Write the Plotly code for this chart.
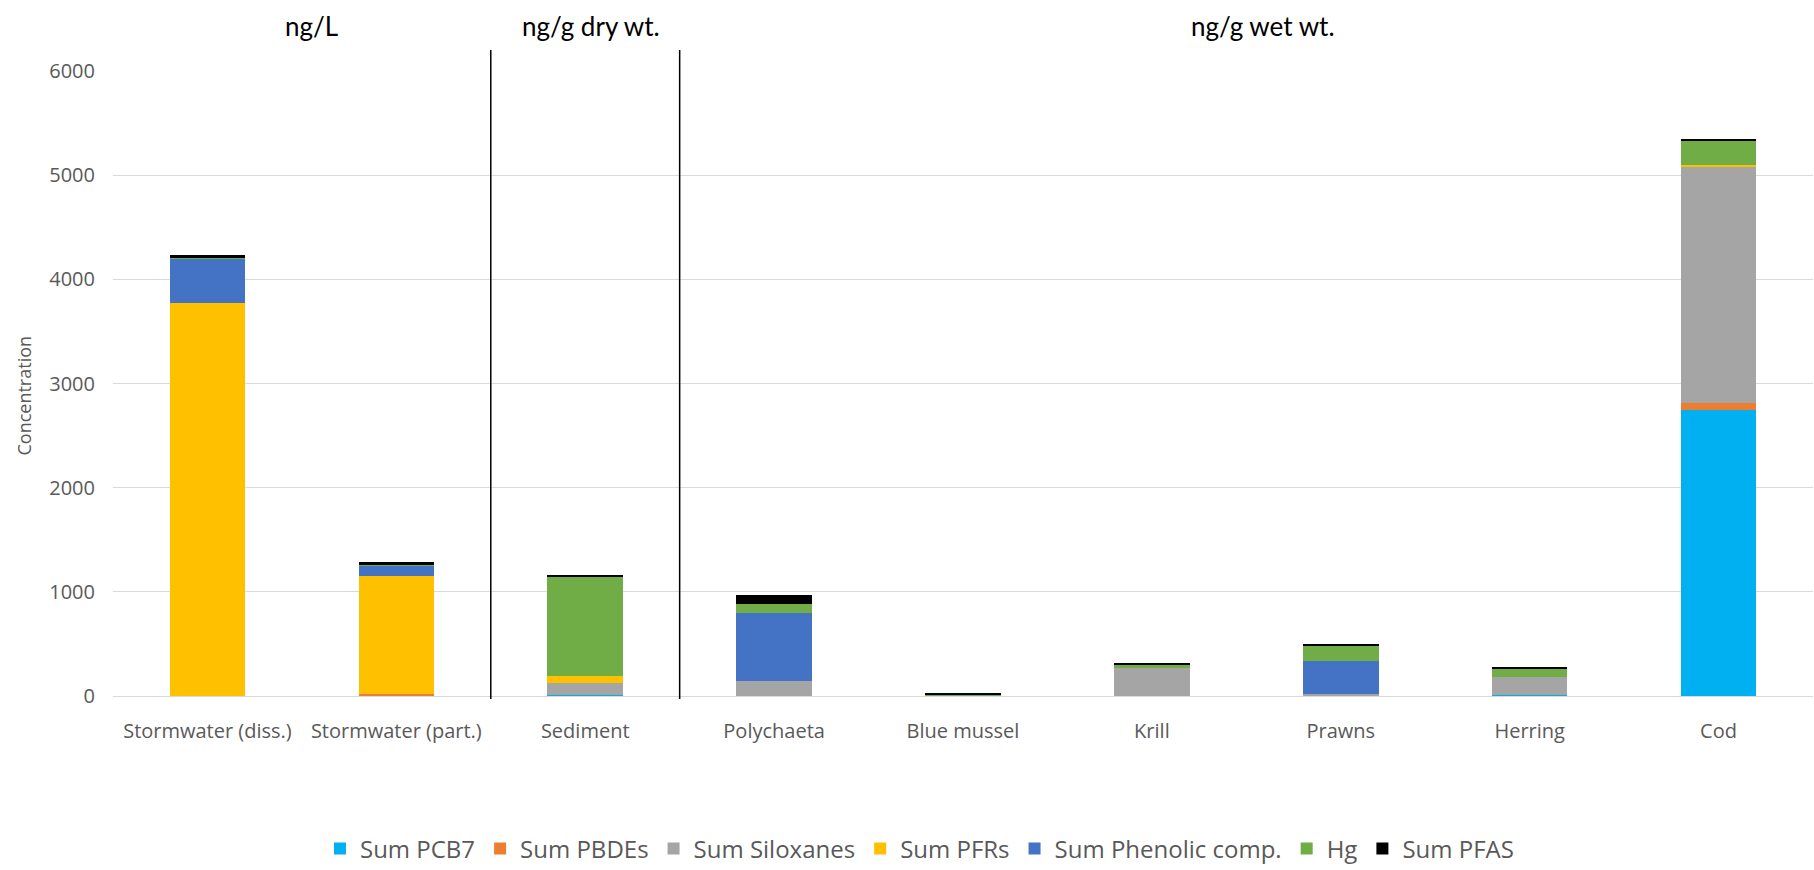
import plotly.graph_objects as go

categories = ["Stormwater (diss.)", "Stormwater (part.)", "Sediment", "Polychaeta",
              "Blue mussel", "Krill", "Prawns", "Herring", "Cod"]

sum_pcb7      = [0,    0,    8,   0,   0,  0,   0,   10,  2745]
sum_pbdes     = [0,    15,   0,   0,   0,  0,   0,   0,   70]
sum_siloxanes = [0,    0,    117, 147, 3,  272, 15,  175, 2271]
sum_pfrs      = [3775, 1140, 70,  0,   0,  0,   0,   0,   13]
sum_phenolic  = [428,  95,   0,   652, 0,  0,   324, 0,   0]
hg            = [6,    14,   950, 87,  8,  26,  144, 77,  230]
sum_pfas      = [20,   19,   13,  86,  18, 19,  16,  10,  14]

series = [
    ("Sum PCB7", sum_pcb7, "#00B0F0"),
    ("Sum PBDEs", sum_pbdes, "#ED7D31"),
    ("Sum Siloxanes", sum_siloxanes, "#A5A5A5"),
    ("Sum PFRs", sum_pfrs, "#FFC000"),
    ("Sum Phenolic comp.", sum_phenolic, "#4472C4"),
    ("Hg", hg, "#70AD47"),
    ("Sum PFAS", sum_pfas, "#000000"),
]

unit_labels = ["ng/L", "ng/g dry wt.", "ng/g wet wt."]
unit_positions = [0.55, 2.03, 5.59]
divider_positions = [1.5, 2.5]
y_title = "Concentration"

fig = go.Figure()
for name, vals, color in series:
    fig.add_trace(go.Bar(x=categories, y=vals, name=name,
                         marker=dict(color=color, line=dict(width=0)),
                         width=0.40))

W, H = 1814, 870
L, R, T, B = 112.5, 1, 71, 174
plot_h = H - T - B
plot_w = W - L - R

def xpaper(pos):
    return (pos + 0.5) / len(categories)

shapes = []
for d in divider_positions:
    shapes.append(dict(type="line", xref="paper", yref="paper",
                       x0=xpaper(d), x1=xpaper(d),
                       y0=-3 / plot_h, y1=1 + 21 / plot_h,
                       line=dict(color="black", width=1.5)))

annotations = []
for lab, pos in zip(unit_labels, unit_positions):
    annotations.append(dict(text=lab, xref="paper", yref="paper",
                            x=xpaper(pos), y=1 + 45.5 / plot_h,
                            xanchor="center", yanchor="middle", showarrow=False,
                            font=dict(family="Lato", size=26, color="black")))
# y-axis title
annotations.append(dict(text=y_title, xref="paper", yref="paper",
                        x=-(L - 23) / plot_w, y=(696 - 396) / plot_h,
                        xanchor="center", yanchor="middle", showarrow=False, textangle=-90,
                        font=dict(size=18, color="#595959")))

fig.update_layout(
    width=W, height=H,
    margin=dict(l=L, r=R, t=T, b=B, pad=0, autoexpand=False),
    barmode="stack",
    plot_bgcolor="white", paper_bgcolor="white",
    font=dict(family="Open Sans", color="#595959"),
    shapes=shapes, annotations=annotations,
    legend=dict(orientation="h", x=0.4744, xanchor="center",
                yref="container", y=1 - 849 / H, yanchor="middle",
                font=dict(size=24, color="#595959"), traceorder="normal",
                itemwidth=30),
    xaxis=dict(range=[-0.5, 8.5], showgrid=False, showline=False, ticks="",
               tickfont=dict(size=20, color="#595959"), ticklabelstandoff=21),
    yaxis=dict(range=[0, 6000], dtick=1000, showgrid=True, gridcolor="#D9D9D9",
               gridwidth=1.3, zeroline=True, zerolinecolor="#D9D9D9", zerolinewidth=1.3,
               showline=False, ticks="", ticklabelstandoff=17,
               tickfont=dict(size=20, color="#595959")),
)

fig.write_html("out.html", config={"displayModeBar": False},
               post_script="document.body.style.margin='0';")
